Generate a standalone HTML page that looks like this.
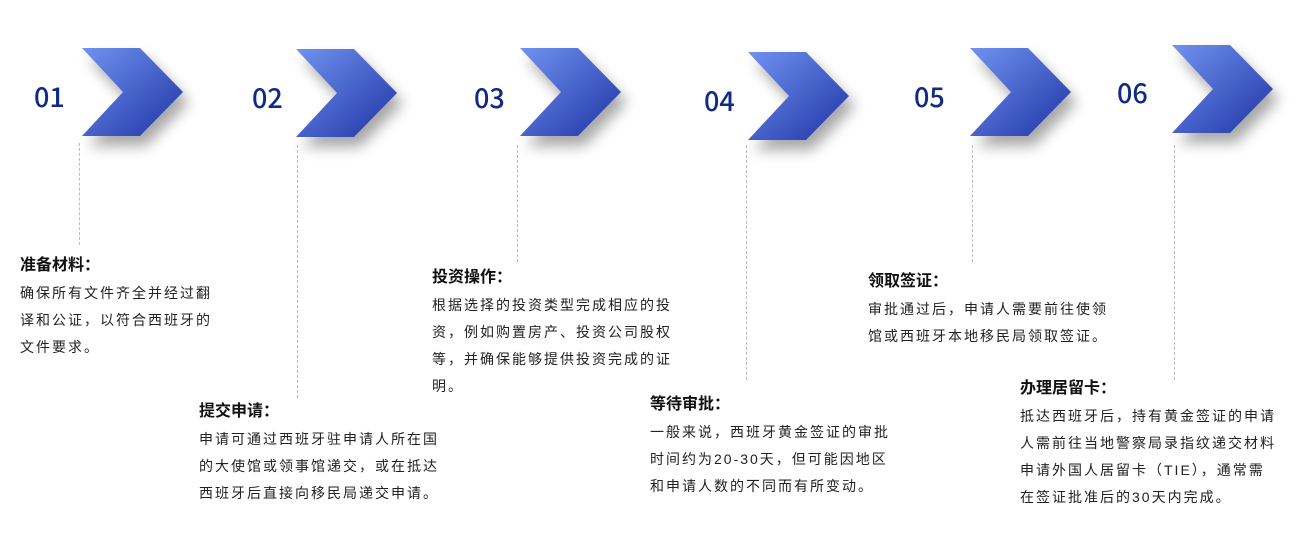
<!DOCTYPE html>
<html><head><meta charset="utf-8"><style>
body{margin:0;width:1300px;height:540px;background:#fff;position:relative;overflow:hidden;font-family:"Liberation Sans","Noto Sans CJK SC",sans-serif;}
.num{position:absolute;font-size:27px;color:#102a86;font-family:"Noto Sans CJK SC","Liberation Sans",sans-serif;font-weight:500;line-height:1;}
.ch{position:absolute;width:101px;height:88px;}
.ln{position:absolute;width:0;border-left:1px dashed #bbb;}
.t{position:absolute;white-space:nowrap;color:#222;}
.t b{display:block;font-size:16px;font-weight:bold;height:28px;line-height:28px;color:#111;}
.t div{font-size:14px;letter-spacing:2px;line-height:27px;}
</style></head><body>
<svg width="1300" height="540" style="position:absolute;left:0;top:0">
<defs>
<linearGradient id="g" x1="0" y1="0" x2="1" y2="1"><stop offset="0" stop-color="#7092f0"/><stop offset="1" stop-color="#1f34a4"/></linearGradient>
<filter id="s" x="-50%" y="-50%" width="200%" height="200%"><feGaussianBlur in="SourceAlpha" stdDeviation="7"/><feOffset dx="6" dy="10"/><feComponentTransfer><feFuncA type="linear" slope="0.35"/></feComponentTransfer><feMerge><feMergeNode/><feMergeNode in="SourceGraphic"/></feMerge></filter>
<path id="c" d="M0 0 H58 L101 44 L58 88 H0 L41 44 Z"/>
</defs>
<g fill="url(#g)" filter="url(#s)">
<use href="#c" x="82" y="48"/>
<use href="#c" x="296" y="49"/>
<use href="#c" x="520" y="48"/>
<use href="#c" x="748" y="52"/>
<use href="#c" x="970" y="48"/>
<use href="#c" x="1172" y="45"/>
</g>
</svg>
<div class="num" style="left:34px;top:82px">01</div>
<div class="num" style="left:252px;top:83px">02</div>
<div class="num" style="left:474px;top:83px">03</div>
<div class="num" style="left:704px;top:86px">04</div>
<div class="num" style="left:914px;top:82px">05</div>
<div class="num" style="left:1117px;top:78px">06</div>
<div class="ln" style="left:79px;top:143px;height:102px"></div>
<div class="ln" style="left:297px;top:145px;height:253px"></div>
<div class="ln" style="left:517px;top:145px;height:117px"></div>
<div class="ln" style="left:746px;top:145px;height:235px"></div>
<div class="ln" style="left:972px;top:145px;height:117px"></div>
<div class="ln" style="left:1174px;top:145px;height:235px"></div>
<div class="t" style="left:20px;top:252px"><b>准备材料：</b><div>确保所有文件齐全并经过翻<br>译和公证，以符合西班牙的<br>文件要求。</div></div>
<div class="t" style="left:199px;top:398px"><b>提交申请：</b><div>申请可通过西班牙驻申请人所在国<br>的大使馆或领事馆递交，或在抵达<br>西班牙后直接向移民局递交申请。</div></div>
<div class="t" style="left:432px;top:264px"><b>投资操作：</b><div>根据选择的投资类型完成相应的投<br>资，例如购置房产、投资公司股权<br>等，并确保能够提供投资完成的证<br>明。</div></div>
<div class="t" style="left:650px;top:391px"><b>等待审批：</b><div>一般来说，西班牙黄金签证的审批<br>时间约为20-30天，但可能因地区<br>和申请人数的不同而有所变动。</div></div>
<div class="t" style="left:868px;top:268px"><b>领取签证：</b><div>审批通过后，申请人需要前往使领<br>馆或西班牙本地移民局领取签证。</div></div>
<div class="t" style="left:1020px;top:375px"><b>办理居留卡：</b><div>抵达西班牙后，持有黄金签证的申请<br>人需前往当地警察局录指纹递交材料<br>申请外国人居留卡（TIE），通常需<br>在签证批准后的30天内完成。</div></div>
</body></html>
